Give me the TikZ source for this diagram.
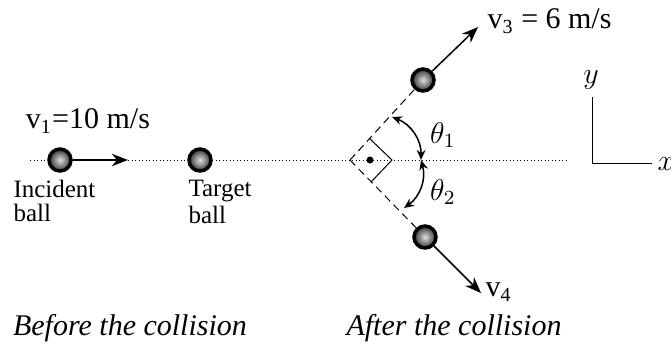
\documentclass[tikz,border=0pt]{standalone}
\usepackage{fontspec}
\setmainfont{Liberation Serif}
\usetikzlibrary{arrows.meta}

\begin{document}
\begin{tikzpicture}[x=0.4pt,y=-0.4pt,
  ball/.style={circle,draw=black,line width=1.4pt,minimum size=8.8pt,inner sep=0pt,
    inner color=gray!25,outer color=black!80},
  vel/.style={semithick,-{Stealth[length=6.5pt,width=5pt]}},
  angarr/.style={semithick,{Stealth[length=4pt,width=3.5pt]}-{Stealth[length=4pt,width=3.5pt]}},
  lab/.style={font=\fontsize{10}{9.5}\selectfont,align=left,inner sep=0pt},
  vlab/.style={font=\fontsize{12}{14}\selectfont,inner sep=0pt},
  captext/.style={font=\fontsize{12}{14}\selectfont\itshape,inner sep=0pt}]
  \useasboundingbox (0,0) rectangle (671,348);
  % before the collision
  \coordinate (L) at (30,160); \coordinate (R) at (567,160);
  \draw[densely dotted] (L) -- (R);
  \node[ball] (inc) at (60,160) {};
  \node[ball] (tgt) at (200,160) {};
  \coordinate (v1tip) at (128,160);
  \draw[vel] (inc) -- (v1tip);
  \node[vlab] (v1) at (88,121) {v\textsubscript{1}=10 m/s};
  \node[lab,anchor=north west] (inclab) at (13,180) {Incident\\ball};
  \node[lab,anchor=north west] (tgtlab) at (188,180) {Target\\[1pt]ball};
  % after the collision
  \coordinate (apex) at (350,160);
  \node[circle,fill,inner sep=1pt] (dot) at (370,160) {};
  \node[ball] (b3) at (423,80) {};
  \node[ball] (b4) at (425,237) {};
  \draw[dashed,dash pattern=on 3pt off 2pt] (apex) -- (b3);
  \draw[dashed,dash pattern=on 3pt off 2pt] (apex) -- (b4);
  \draw (369,138) -- (392,160) -- (371,182);
  \coordinate (t3) at (478,27); \coordinate (t4) at (481,293);
  \draw[vel] (b3) -- (t3);
  \draw[vel] (b4) -- (t4);
  \coordinate (m) at (421,160);
  \coordinate (a1) at (392,117); \coordinate (a2) at (404,208);
  \draw[angarr] (m) to[bend right=35] (a1);
  \draw[angarr] (m) to[bend left=35] (a2);
  \node[font=\large] (th1) at (443,135) {$\theta_1$};
  \node[font=\large] (th2) at (443,192) {$\theta_2$};
  \node[vlab,anchor=west] (v3) at (487,21) {v\textsubscript{3} = 6 m/s};
  \node[vlab,anchor=west] (v4) at (485,292) {v\textsubscript{4}};
  % axes
  \coordinate (oy) at (592,97); \coordinate (o) at (592,163); \coordinate (ox) at (652,163);
  \draw (oy) -- (o) -- (ox);
  \node[font=\large] (ylab) at (591,80) {$y$};
  \node[font=\large,anchor=west,inner sep=0pt] (xlab) at (657,164) {$x$};
  % captions
  \node[captext] (before) at (130,328) {Before the collision};
  \node[captext] (after) at (454,328) {After the collision};
\end{tikzpicture}
\end{document}
